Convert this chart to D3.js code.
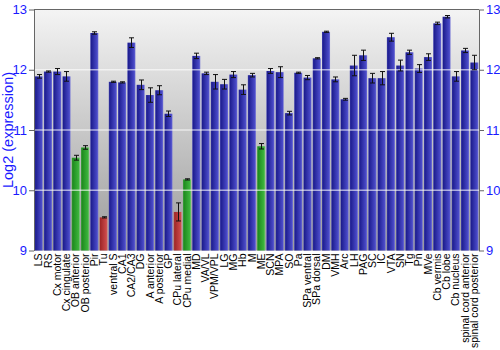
<!DOCTYPE html>
<html><head><meta charset="utf-8">
<script src="https://cdn.jsdelivr.net/npm/d3@7"></script>
<style>body{margin:0;background:#fff;}svg{display:block;}</style>
</head><body><svg id="c" width="500" height="350"></svg>
<script>
const categories = ["LS","RS","Cx motor","Cx cingulate","OB anterior","OB posterior","Pir","Tu","ventral S","CA1","CA2/CA3","DG","A anterior","A posterior","GP","CPu lateral","CPu medial","MD","VA/VL","VPM/VPL","LG","MG","Hb","M","ME","SCN","MPA","SO","Pa","SPa ventral","SPa dorsal","DM","VMH","Arc","LH","PAG","SC","IC","VTA","SN","Tg","Pn","MVe","Cb vermis","Cb lobe","Cb nucleus","spinal cord anterior","spinal cord posterior"];
const values = [11.89,11.97,11.97,11.89,10.54,10.71,12.61,9.55,11.80,11.79,12.45,11.75,11.58,11.66,11.27,9.64,10.18,12.23,11.94,11.80,11.76,11.92,11.67,11.91,10.73,11.98,11.96,11.28,11.95,11.87,12.19,12.63,11.84,11.51,12.07,12.24,11.86,11.86,12.54,12.07,12.29,12.02,12.21,12.77,12.88,11.89,12.32,12.12];
const errors = [0.03,0.01,0.05,0.08,0.04,0.03,0.02,0.01,0.01,0.01,0.08,0.08,0.12,0.075,0.045,0.15,0.01,0.045,0.02,0.12,0.08,0.05,0.08,0.03,0.045,0.04,0.09,0.03,0.01,0.035,0.01,0.01,0.04,0.015,0.17,0.085,0.08,0.11,0.065,0.09,0.035,0.065,0.055,0.02,0.02,0.08,0.035,0.12];
const groups = ["b","b","b","b","g","g","b","r","b","b","b","b","b","b","b","r","g","b","b","b","b","b","b","b","g","b","b","b","b","b","b","b","b","b","b","b","b","b","b","b","b","b","b","b","b","b","b","b"];
const yTicks = [9,10,11,12,13];
const yTitle = "Log2 (expression)";

const svg = d3.select("#c");
const m = {l:34, r:21, t:9.5, b:99.5};
const W = 500, H = 350;
const x = d3.scaleBand().domain(categories).range([m.l, W - m.r]).paddingInner(0.13).paddingOuter(0.07);
const y = d3.scaleLinear().domain([9,13]).range([H - m.b, m.t]);

const defs = svg.append("defs");
const bg = defs.append("linearGradient").attr("id","bg").attr("x1",0).attr("y1",0).attr("x2",0).attr("y2",1);
bg.append("stop").attr("offset","0%").attr("stop-color","#f4f4f4");
bg.append("stop").attr("offset","100%").attr("stop-color","#9c9c9c");
const palettes = {
  b:["#4a4ab4","#1e1e90","#4a4ac8","#7878d6"],
  g:["#50a850","#1e8a1e","#3cb43c","#78c878"],
  r:["#c06060","#a02828","#cc4a4a","#d88080"]
};
Object.entries(palettes).forEach(([k,c])=>{
  const g = defs.append("linearGradient").attr("id","g"+k).attr("x1",0).attr("y1",0).attr("x2",1).attr("y2",0);
  g.append("stop").attr("offset","0%").attr("stop-color",c[0]);
  g.append("stop").attr("offset","12%").attr("stop-color",c[1]);
  g.append("stop").attr("offset","85%").attr("stop-color",c[2]);
  g.append("stop").attr("offset","100%").attr("stop-color",c[3]);
});

svg.append("rect").attr("x",m.l).attr("y",m.t).attr("width",W-m.l-m.r).attr("height",H-m.b-m.t).attr("fill","url(#bg)");

const data = categories.map((c,i)=>({c, v:values[i], e:errors[i], g:groups[i]}));
svg.append("g").selectAll("rect").data(data).join("rect")
  .attr("x",d=>x(d.c)).attr("width",x.bandwidth())
  .attr("y",d=>y(d.v)).attr("height",d=>y(9)-y(d.v))
  .attr("fill",d=>"url(#g"+d.g+")");

// gridlines
svg.append("g").selectAll("line").data([10,11,12]).join("line")
  .attr("x1",m.l).attr("x2",W-m.r).attr("y1",d=>y(d)).attr("y2",d=>y(d))
  .attr("stroke","#ffffff").attr("stroke-opacity",0.6).attr("stroke-width",1.5);

// error bars
const eb = svg.append("g").attr("stroke","#111").attr("stroke-width",1);
data.forEach(d=>{
  const cx = Math.round(x(d.c)+x.bandwidth()/2)+0.5;
  const y1 = y(d.v+d.e), y2 = y(d.v-d.e);
  eb.append("line").attr("x1",cx).attr("x2",cx).attr("y1",y1).attr("y2",y2);
  eb.append("line").attr("x1",cx-2.5).attr("x2",cx+2.5).attr("y1",y1).attr("y2",y1);
  eb.append("line").attr("x1",cx-2.5).attr("x2",cx+2.5).attr("y1",y2).attr("y2",y2);
});

// frame top
svg.append("line").attr("x1",m.l).attr("x2",W-m.r).attr("y1",m.t).attr("y2",m.t).attr("stroke","#666");

const styleAxis = g => {
  g.select(".domain").attr("stroke","#666");
  g.selectAll(".tick line").attr("stroke","#666");
  g.selectAll(".tick text").attr("fill","#1a1aff").attr("font-size","13px").attr("font-family","Liberation Sans, Arial, sans-serif");
};
svg.append("g").attr("transform",`translate(${m.l},0)`)
  .call(d3.axisLeft(y).tickValues(yTicks).tickFormat(d3.format("d")).tickSize(5).tickSizeOuter(0).tickPadding(2)).call(styleAxis);
svg.append("g").attr("transform",`translate(${W-m.r},0)`)
  .call(d3.axisRight(y).tickValues(yTicks).tickFormat(d3.format("d")).tickSize(5).tickSizeOuter(0).tickPadding(2)).call(styleAxis);

// x labels
const xa = svg.append("g").attr("transform",`translate(0,${H-m.b})`)
  .call(d3.axisBottom(x).tickSize(0).tickPadding(0));
xa.select(".domain").remove();
xa.selectAll(".tick text")
  .attr("transform","rotate(-90)")
  .attr("text-anchor","end")
  .attr("dy","0.35em").attr("x",-3).attr("y",0)
  .attr("fill","#000").attr("font-size","10.5px").attr("font-family","Liberation Sans, Arial, sans-serif");

svg.append("text").attr("transform",`translate(13,${(m.t+H-m.b)/2}) rotate(-90)`)
  .attr("text-anchor","middle").attr("fill","#1a1aff")
  .attr("font-size","14.5px").attr("font-family","Liberation Sans, Arial, sans-serif").text(yTitle);
</script></body></html>
